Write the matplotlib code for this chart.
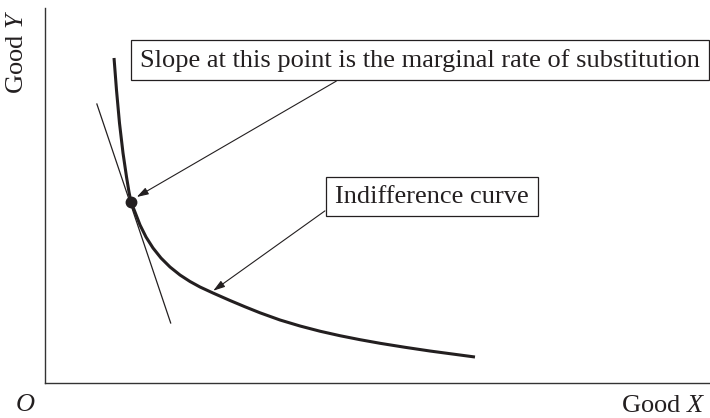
import matplotlib
matplotlib.use("Agg")
import matplotlib.pyplot as plt

plt.rcParams['font.family'] = ['Liberation Serif', 'DejaVu Serif']
plt.rcParams['mathtext.fontset'] = 'custom'
plt.rcParams['mathtext.rm'] = 'Liberation Serif'
plt.rcParams['mathtext.it'] = 'Liberation Serif:italic'

INK = '#231f20'

# indifference curve (goods X and Y in arbitrary units)
curve_x = [1.038, 1.075, 1.120, 1.173, 1.226, 1.263, 1.293, 1.353, 1.429,
           1.519, 1.624, 1.744, 1.880, 2.030, 2.180, 2.331, 2.526, 2.782,
           3.008, 3.233, 3.534, 3.835, 4.135, 4.436, 4.737, 5.038, 5.414,
           5.789, 6.466]
curve_y = [8.667, 7.813, 6.933, 6.133, 5.493, 5.093, 4.827, 4.560, 4.213,
           3.893, 3.600, 3.333, 3.093, 2.880, 2.707, 2.560, 2.400, 2.200,
           2.032, 1.872, 1.680, 1.520, 1.381, 1.261, 1.155, 1.059, 0.952,
           0.853, 0.693]

# tangent line through the marked point
tangent_x = [0.78, 1.89]
tangent_y = [7.44, 1.60]

point_x, point_y = 1.293, 4.827

slope_label = 'Slope at this point is the marginal rate of substitution'
curve_label = 'Indifference curve'

fig = plt.figure(figsize=(7.1, 4.18), dpi=100)
W, H = 710, 418
ax = fig.add_axes([45 / W, (H - 383) / H, 665 / W, 375 / H])
ax.set_xlim(0, 10)
ax.set_ylim(0, 10)
for side in ['top', 'right']:
    ax.spines[side].set_visible(False)
for side in ['left', 'bottom']:
    ax.spines[side].set_color('#333333')
    ax.spines[side].set_linewidth(1.0)
ax.set_xticks([])
ax.set_yticks([])

ax.plot(curve_x, curve_y, color=INK, lw=2.2, solid_capstyle='butt',
        solid_joinstyle='round', zorder=3)
ax.plot(tangent_x, tangent_y, color=INK, lw=0.9, zorder=2)
ax.plot([point_x], [point_y], 'o', color=INK, ms=7.5, zorder=4)

box = dict(boxstyle='square,pad=0.33', fc='white', ec=INK, lw=0.9)
arrow = dict(arrowstyle='-|>,head_length=0.7,head_width=0.22', color=INK,
             lw=0.8, shrinkA=0, shrinkB=0)

ax.text(5.64, 8.61, slope_label, fontsize=19, ha='center', va='center',
        color=INK, bbox=box, zorder=5)
ax.annotate('', xy=(1.38, 4.96), xytext=(4.38, 8.05), arrowprops=arrow)

ax.text(5.82, 4.97, curve_label, fontsize=19, ha='center', va='center',
        color=INK, bbox=box, zorder=5)
ax.annotate('', xy=(2.53, 2.46), xytext=(4.21, 4.59), arrowprops=arrow)

fig.text(17 / W, 1 - 52 / H, r'Good $\mathit{Y}$', rotation=90, fontsize=19,
         ha='center', va='center', color=INK)
fig.text(25 / W, 1 - 411 / H, r'$\mathit{O}$', fontsize=19,
         ha='center', va='baseline', color=INK)
fig.text(705 / W, 1 - 412 / H, r'Good $\mathit{X}$', fontsize=19,
         ha='right', va='baseline', color=INK)

fig.savefig('out.png', dpi=100)
